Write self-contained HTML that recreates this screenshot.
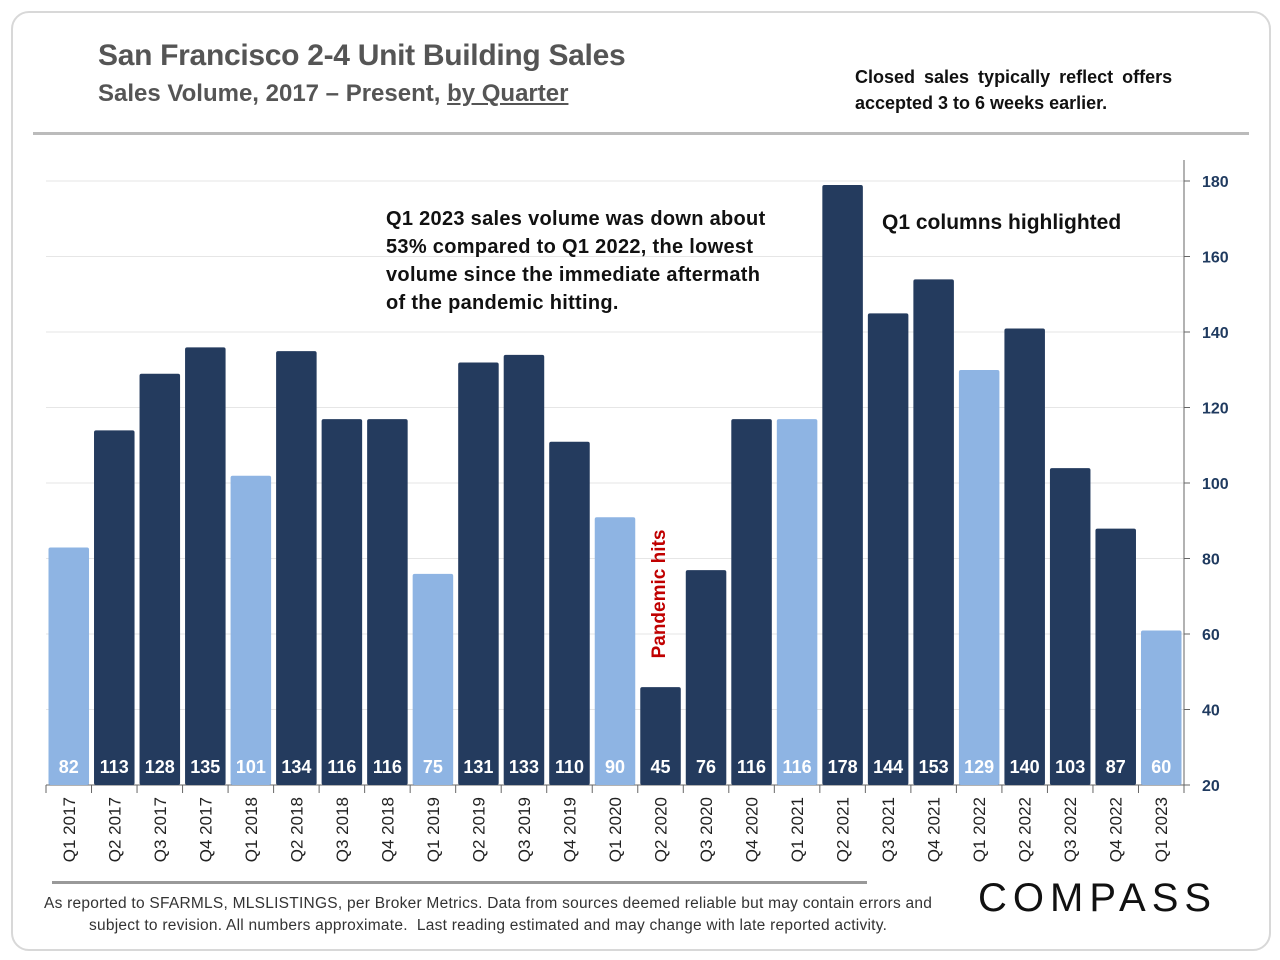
<!DOCTYPE html>
<html><head><meta charset="utf-8"><style>
body{margin:0;background:#fff;font-family:"Liberation Sans",sans-serif;}
#card{position:absolute;left:11px;top:11px;width:1256px;height:936px;border:2px solid #d8d8d8;border-radius:18px;background:#fff;}
.t{position:absolute;white-space:nowrap;}
</style></head><body>
<div id="card"></div>
<div class="t" style="left:98px;top:39px;font-size:30px;font-weight:bold;color:#555;letter-spacing:-0.3px;">San Francisco 2-4 Unit Building Sales</div>
<div class="t" style="left:98px;top:80px;font-size:24px;font-weight:bold;color:#555;">Sales Volume, 2017 – Present, <u>by Quarter</u></div>
<div class="t" style="left:855px;top:64px;font-size:18px;font-weight:bold;color:#111;line-height:26px;word-spacing:4px;">Closed sales typically reflect offers<br><span style="word-spacing:0">accepted 3 to 6 weeks earlier.</span></div>
<div style="position:absolute;left:33px;top:132px;width:1216px;height:3px;background:#bbb;"></div>
<svg id="chart" width="1280" height="960" style="position:absolute;left:0;top:0"></svg>
<div class="t" style="left:386px;top:205px;font-size:20px;font-weight:bold;color:#111;line-height:28px;letter-spacing:0.3px;">Q1 2023 sales volume was down about<br>53% compared to Q1 2022, the lowest<br>volume since the immediate aftermath<br>of the pandemic hitting.</div>
<div class="t" style="left:882px;top:211px;font-size:21px;font-weight:bold;color:#111;">Q1 columns highlighted</div>
<div class="t" style="left:660px;top:594px;font-size:19px;font-weight:bold;color:#c00000;transform:translate(-50%,-50%) rotate(-90deg);">Pandemic hits</div>
<div style="position:absolute;left:52px;top:881px;width:815px;height:3px;background:#999;"></div>
<div class="t" style="left:44px;top:893px;font-size:15.5px;color:#333;line-height:22px;text-align:center;letter-spacing:0.25px;">As reported to SFARMLS, MLSLISTINGS, per Broker Metrics. Data from sources deemed reliable but may contain errors and<br>subject to revision. All numbers approximate.&nbsp; Last reading estimated and may change with late reported activity.</div>
<div class="t" style="left:978px;top:876px;font-size:40px;color:#111;letter-spacing:6px;">COMPASS</div>
<script>
const categories=["Q1 2017","Q2 2017","Q3 2017","Q4 2017","Q1 2018","Q2 2018","Q3 2018","Q4 2018","Q1 2019","Q2 2019","Q3 2019","Q4 2019","Q1 2020","Q2 2020","Q3 2020","Q4 2020","Q1 2021","Q2 2021","Q3 2021","Q4 2021","Q1 2022","Q2 2022","Q3 2022","Q4 2022","Q1 2023"];
const values=[82,113,128,135,101,134,116,116,75,131,133,110,90,45,76,116,116,178,144,153,129,140,103,87,60];
const yTicks=[20,40,60,80,100,120,140,160,180];
const NS="http://www.w3.org/2000/svg";
const svg=document.getElementById('chart');
const x0=46,x1=1184,yTop=181,yBot=785,vMin=20,vMax=180;
const step=(x1-x0)/categories.length;
function yScale(v){return yBot-(v-vMin)/(vMax-vMin)*(yBot-yTop);}
function xScale(i){return x0+i*step;}
function mk(tag,attrs){const e=document.createElementNS(NS,tag);for(const k in attrs)e.setAttribute(k,attrs[k]);svg.appendChild(e);return e;}
yTicks.forEach(t=>{
 if(t>vMin){const g=mk('line',{x1:x0,x2:x1,y1:yScale(t),y2:yScale(t),stroke:'#e6e6e6','stroke-width':1});
 
 }
 const tk=mk('line',{x1:x1,x2:x1+6,y1:yScale(t),y2:yScale(t),stroke:'#666'});
 
 
 const tx=mk('text',{x:x1+18,y:yScale(t)+6,'font-size':16,'font-weight':'bold',fill:'#1f3a5f','font-family':'Liberation Sans, sans-serif'});
 tx.textContent=t;
 
 
});
const ya=mk('line',{x1:x1,x2:x1,y1:160,y2:yBot,stroke:'#666'});


const xa=mk('line',{x1:x0,x2:x1,y1:yBot,y2:yBot,stroke:'#666'});


categories.forEach((c,i)=>{
 const q1=c.startsWith('Q1');
 const bx=xScale(i)+2.5,bw=step-5,by=yScale(values[i])-3.5;
 const r=mk('rect',{x:bx,y:by,width:bw,height:yBot-by,fill:q1?'#8eb4e3':'#243b5e',rx:2});
 
 
 const lb=mk('text',{x:bx+bw/2,y:773,'text-anchor':'middle','font-size':18,'font-weight':'bold',fill:'#fff','font-family':'Liberation Sans, sans-serif'});
 lb.textContent=values[i];
 
 
 const tk=mk('line',{x1:xScale(i),x2:xScale(i),y1:yBot,y2:yBot+8,stroke:'#666'});
 
 
 const cx=xScale(i)+step/2+6;
 const tl=mk('text',{x:cx,y:797,'text-anchor':'end','font-size':17,fill:'#222','font-family':'Liberation Sans, sans-serif',transform:`rotate(-90 ${cx} 797)`});
 tl.textContent=c;
 
 
});
const tkEnd=mk('line',{x1:x1,x2:x1,y1:yBot,y2:yBot+8,stroke:'#666'});


</script>
</body></html>
